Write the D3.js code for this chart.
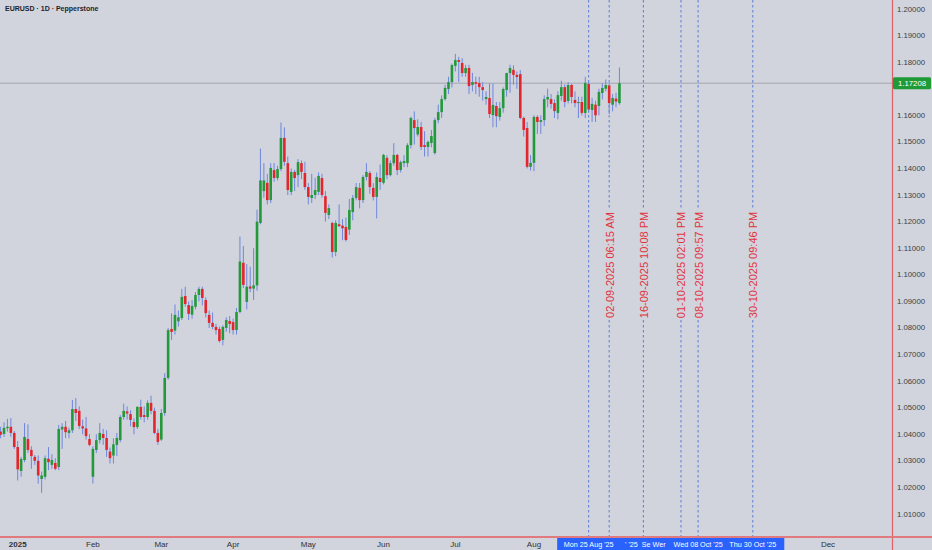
<!DOCTYPE html>
<html><head><meta charset="utf-8">
<script src="https://cdn.jsdelivr.net/npm/d3@7"></script>
<style>
html,body{margin:0;padding:0;background:#d1d4dc;}
svg{display:block;font-family:"Liberation Sans",Arial,sans-serif;}
</style>
</head><body>
<svg id="chart" width="932" height="550"></svg>
<script>
// ---------------- DATA (EURUSD daily, Dec 24 2024 -> Sep 5 2025) ----------------
const firstDay = "2024-12-24";
const holidays = ["2024-12-25", "2025-01-01"];
const openP = [
1.0410,1.0401,1.0423,1.0428,1.0405,
1.0352,1.0262,1.0303,1.0382,1.0341,1.0315,1.0300,1.0232,1.0240,1.0308,1.0285,1.0292,1.0277,1.0418,1.0428,1.0405,1.0415,1.0495,1.0488,1.0430,1.0422,1.0382,
1.0240,1.0341,1.0378,1.0401,1.0386,1.0335,1.0320,1.0360,1.0378,1.0465,1.0486,1.0476,1.0446,1.0427,1.0503,1.0472,1.0465,1.0518,1.0488,1.0405,
1.0380,1.0480,1.0612,1.0796,1.0790,1.0825,1.0837,1.0920,1.0886,1.0850,1.0880,1.0924,1.0947,1.0905,1.0849,1.0819,1.0804,1.0796,1.0755,1.0800,1.0826,
1.0822,1.0792,1.0860,1.1045,1.0898,1.0956,1.0948,1.0960,1.1195,1.1315,1.1346,1.1281,1.1394,1.1364,1.1398,1.1515,1.1420,1.1312,1.1387,1.1375,1.1420,1.1383,
1.1330,1.1289,1.1300,1.1312,1.1364,1.1296,1.1225,1.1195,1.1086,1.1190,1.1185,1.1180,1.1170,1.1236,1.1289,1.1327,1.1281,1.1368,1.1383,1.1327,1.1293,1.1364,
1.1346,1.1440,1.1375,1.1420,1.1451,1.1394,1.1420,1.1420,1.1488,1.1582,1.1528,1.1556,1.1488,1.1481,1.1496,1.1458,1.1582,1.1612,1.1661,1.1699,1.1725,
1.1786,1.1808,1.1797,1.1759,1.1778,1.1714,1.1725,1.1721,1.1706,1.1661,1.1665,1.1601,1.1635,1.1594,1.1627,1.1695,1.1759,1.1771,1.1752,1.1755,1.1590,1.1552,1.1406,
1.1421,1.1594,1.1575,1.1582,1.1660,1.1661,1.1646,1.1609,1.1673,1.1706,1.1654,1.1714,1.1658,1.1646,1.1650,1.1609,1.1718,1.1620,1.1640,1.1635,1.1684,
1.1700,1.1712,1.1640,1.1663,1.1646];
const highP = [
1.0428,1.0445,1.0458,1.0461,1.0412,
1.0375,1.0315,1.0442,1.0437,1.0355,1.0322,1.0320,1.0260,1.0320,1.0352,1.0325,1.0310,1.0435,1.0442,1.0450,1.0425,1.0529,1.0536,1.0505,1.0455,1.0465,1.0400,
1.0355,1.0400,1.0442,1.0420,1.0415,1.0350,1.0385,1.0405,1.0472,1.0515,1.0505,1.0490,1.0460,1.0505,1.0530,1.0505,1.0528,1.0545,1.0500,1.0420,
1.0495,1.0630,1.0800,1.0855,1.0888,1.0865,1.0947,1.0955,1.0900,1.0905,1.0935,1.0955,1.0955,1.0915,1.0865,1.0858,1.0815,1.0805,1.0810,1.0840,1.0845,
1.0835,1.0875,1.1144,1.1108,1.1040,1.1030,1.1100,1.1245,1.1475,1.1420,1.1380,1.1420,1.1420,1.1410,1.1573,1.1555,1.1445,1.1400,1.1395,1.1435,1.1430,1.1425,
1.1345,1.1380,1.1365,1.1385,1.1380,1.1315,1.1265,1.1200,1.1205,1.1265,1.1210,1.1215,1.1285,1.1300,1.1345,1.1345,1.1375,1.1420,1.1390,1.1345,1.1385,1.1415,
1.1455,1.1450,1.1430,1.1495,1.1455,1.1430,1.1450,1.1495,1.1595,1.1615,1.1585,1.1575,1.1540,1.1505,1.1545,1.1590,1.1640,1.1675,1.1715,1.1745,1.1795,
1.1831,1.1820,1.1815,1.1790,1.1790,1.1760,1.1745,1.1745,1.1725,1.1690,1.1720,1.1720,1.1650,1.1650,1.1705,1.1760,1.1790,1.1788,1.1765,1.1770,1.1595,1.1575,1.1450,
1.1600,1.1600,1.1600,1.1675,1.1700,1.1680,1.1660,1.1690,1.1730,1.1716,1.1725,1.1718,1.1690,1.1670,1.1670,1.1745,1.1725,1.1665,1.1655,1.1700,1.1720,
1.1735,1.1720,1.1680,1.1685,1.1780];
const lowP = [
1.0385,1.0390,1.0410,1.0390,1.0345,
1.0226,1.0240,1.0295,1.0330,1.0270,1.0285,1.0214,1.0180,1.0230,1.0265,1.0270,1.0265,1.0265,1.0345,1.0385,1.0385,1.0405,1.0450,1.0420,1.0400,1.0380,1.0355,
1.0215,1.0330,1.0365,1.0360,1.0315,1.0290,1.0290,1.0318,1.0370,1.0455,1.0455,1.0430,1.0400,1.0420,1.0455,1.0445,1.0455,1.0475,1.0400,1.0360,
1.0375,1.0470,1.0605,1.0755,1.0775,1.0805,1.0830,1.0880,1.0830,1.0835,1.0870,1.0900,1.0885,1.0840,1.0800,1.0795,1.0775,1.0745,1.0735,1.0785,1.0780,
1.0775,1.0775,1.0855,1.0950,1.0870,1.0935,1.0905,1.0940,1.1190,1.1290,1.1265,1.1270,1.1350,1.1355,1.1390,1.1410,1.1300,1.1300,1.1315,1.1330,1.1360,1.1320,
1.1265,1.1270,1.1285,1.1300,1.1290,1.1200,1.1210,1.1065,1.1070,1.1180,1.1130,1.1125,1.1150,1.1205,1.1280,1.1250,1.1270,1.1355,1.1305,1.1280,1.1212,1.1320,
1.1340,1.1360,1.1370,1.1410,1.1375,1.1385,1.1405,1.1405,1.1475,1.1490,1.1520,1.1470,1.1445,1.1445,1.1480,1.1452,1.1570,1.1590,1.1655,1.1680,1.1705,
1.1765,1.1725,1.1745,1.1745,1.1680,1.1690,1.1680,1.1670,1.1655,1.1640,1.1590,1.1555,1.1555,1.1580,1.1610,1.1670,1.1685,1.1715,1.1700,1.1585,1.1520,1.1400,1.1392,
1.1390,1.1530,1.1530,1.1560,1.1630,1.1625,1.1590,1.1585,1.1655,1.1630,1.1645,1.1645,1.1630,1.1590,1.1600,1.1590,1.1610,1.1575,1.1575,1.1600,1.1660,
1.1690,1.1605,1.1615,1.1630,1.1640];
const closeP = [
1.0398,1.0424,1.0428,1.0405,1.0352,
1.0268,1.0307,1.0390,1.0341,1.0318,1.0300,1.0245,1.0245,1.0310,1.0295,1.0303,1.0270,1.0420,1.0428,1.0408,1.0415,1.0495,1.0480,1.0431,1.0422,1.0393,1.0360,
1.0345,1.0378,1.0405,1.0386,1.0341,1.0310,1.0362,1.0386,1.0465,1.0488,1.0478,1.0454,1.0427,1.0503,1.0465,1.0465,1.0518,1.0488,1.0405,1.0371,
1.0480,1.0612,1.0792,1.0785,1.0849,1.0840,1.0917,1.0890,1.0853,1.0883,1.0924,1.0947,1.0913,1.0856,1.0819,1.0804,1.0792,1.0751,1.0804,1.0830,1.0815,
1.0792,1.0860,1.1050,1.0962,1.0955,1.0948,1.0960,1.1200,1.1355,1.1355,1.1281,1.1402,1.1364,1.1398,1.1515,1.1425,1.1319,1.1387,1.1364,1.1424,1.1387,1.1330,
1.1293,1.1300,1.1319,1.1372,1.1300,1.1233,1.1251,1.1086,1.1195,1.1183,1.1175,1.1131,1.1244,1.1289,1.1330,1.1281,1.1368,1.1387,1.1330,1.1293,1.1368,1.1349,
1.1451,1.1375,1.1420,1.1451,1.1394,1.1424,1.1428,1.1488,1.1590,1.1552,1.1556,1.1481,1.1481,1.1500,1.1522,1.1582,1.1612,1.1661,1.1703,1.1725,1.1789,
1.1808,1.1801,1.1759,1.1778,1.1710,1.1725,1.1719,1.1706,1.1695,1.1669,1.1605,1.1639,1.1597,1.1627,1.1699,1.1759,1.1778,1.1752,1.1744,1.1590,1.1545,1.1406,1.1421,
1.1594,1.1575,1.1582,1.1661,1.1669,1.1643,1.1616,1.1676,1.1706,1.1650,1.1714,1.1669,1.1646,1.1650,1.1609,1.1722,1.1622,1.1643,1.1600,1.1688,1.1703,
1.1714,1.1646,1.1665,1.1652,1.17208];

const priceTicks = [1.01,1.02,1.03,1.04,1.05,1.06,1.07,1.08,1.09,1.10,1.11,1.12,1.13,1.14,1.15,1.16,1.17,1.18,1.19,1.20];
const monthTickLabels = ["2025","Feb","Mar","Apr","May","Jun","Jul","Aug","Sep","Oct","Nov","Dec"];
const markerDates = ["2025-08-25 00:00","2025-09-02 06:15","2025-09-16 22:08","2025-10-01 14:01","2025-10-08 21:57","2025-10-30 21:46"];
const markerTexts = ["", "02-09-2025 06:15 AM", "16-09-2025 10:08 PM", "01-10-2025 02:01 PM", "08-10-2025 09:57 PM", "30-10-2025 09:46 PM"];
// visible parts of the overlapping time-axis date labels, as shown
const axisDateTexts = ["Mon 25 Aug '25", "' '25", "Se", "Wer", "Wed 08 Oct '25", "Thu 30 Oct '25"];
const title = "EURUSD · 1D · Pepperstone";

// ---------------- CALENDAR (trading days) ----------------
const parseDay = d3.utcParse("%Y-%m-%d");
const parseDT = d3.utcParse("%Y-%m-%d %H:%M");
const fmtDay = d3.utcFormat("%Y-%m-%d");
const calendar = d3.utcDays(parseDay(firstDay), parseDay("2026-01-01"))
  .filter(d => d.getUTCDay() !== 0 && d.getUTCDay() !== 6 && !holidays.includes(fmtDay(d)));
const dayIndex = new Map(calendar.map((d, i) => [fmtDay(d), i]));
const bars = openP.map((o, i) => ({i, date: calendar[i], o, h: highP[i], l: lowP[i], c: closeP[i]}));

// ---------------- LAYOUT ----------------
const W = 932, H = 550, plotR = 892, plotB = 537;
const BG = "#d1d4dc", UP = "#22993a", DOWN = "#e3262e", WICK = "#6f86dc";
const svg = d3.select("#chart");
svg.append("rect").attr("width", W).attr("height", H).attr("fill", BG);

const y = d3.scaleLinear().domain([1.01, 1.20]).range([514, 9]);
const jan2 = dayIndex.get("2025-01-02"), dec1 = dayIndex.get("2025-12-01");
const x = d3.scaleLinear().domain([jan2, dec1]).range([17.7, 828]);

const plot = svg.append("g");
plot.append("clipPath").attr("id", "clip").append("rect").attr("width", plotR).attr("height", plotB);
const pg = plot.append("g").attr("clip-path", "url(#clip)");

// current price line
const last = bars[bars.length - 1];
pg.append("line").attr("x1", 0).attr("x2", plotR).attr("y1", y(last.c)).attr("y2", y(last.c))
  .attr("stroke", "#a3a7b1").attr("stroke-width", 1);

// vertical marker lines + labels
const markerX = markerDates.map(md => x(dayIndex.get(fmtDay(parseDT(md)))));
markerDates.forEach((md, k) => {
  const xi = markerX[k];
  pg.append("line").attr("x1", xi).attr("x2", xi).attr("y1", 0).attr("y2", plotB)
    .attr("stroke", "#5a7ddb").attr("stroke-width", 1).attr("stroke-dasharray", "2.5,2.5");
  if (markerTexts[k]) {
    const cy = 265;
    pg.append("rect").attr("x", xi - 6).attr("y", cy - 55).attr("width", 12).attr("height", 110).attr("fill", BG);
    pg.append("text").attr("transform", `translate(${xi + 0.5},${cy}) rotate(-90)`)
      .attr("text-anchor", "middle").attr("dominant-baseline", "central")
      .attr("font-size", 11).attr("fill", "#e1333f").text(markerTexts[k]);
  }
});

// candles
const cg = pg.append("g");
cg.selectAll("line.wick").data(bars).join("line").attr("class", "wick")
  .attr("x1", d => x(d.i)).attr("x2", d => x(d.i))
  .attr("y1", d => y(d.h)).attr("y2", d => y(d.l))
  .attr("stroke", WICK).attr("stroke-width", 1);
cg.selectAll("rect.body").data(bars).join("rect").attr("class", "body")
  .attr("x", d => x(d.i) - 1.3).attr("width", 2.6)
  .attr("y", d => y(Math.max(d.o, d.c)))
  .attr("height", d => Math.max(1, Math.abs(y(d.o) - y(d.c))))
  .attr("fill", d => d.c >= d.o ? UP : DOWN);

// frame lines
svg.append("line").attr("x1", plotR + 0.5).attr("x2", plotR + 0.5).attr("y1", 0).attr("y2", H)
  .attr("stroke", "#e06068").attr("stroke-width", 1.2);
svg.append("line").attr("x1", 0).attr("x2", W).attr("y1", plotB).attr("y2", plotB)
  .attr("stroke", "#e07a7e").attr("stroke-width", 2);

// right price axis
const axR = svg.append("g").attr("transform", `translate(${plotR},0)`);
axR.selectAll("text").data(priceTicks.filter(d => Math.abs(y(d) - y(last.c)) > 7)).join("text")
  .attr("x", 19).attr("y", d => y(d)).attr("text-anchor", "middle").attr("dominant-baseline", "central")
  .attr("font-size", 7.8).attr("fill", "#3d3f45").text(d => d3.format(".5f")(d));
axR.append("rect").attr("x", 1).attr("y", y(last.c) - 6).attr("width", 38).attr("height", 12)
  .attr("rx", 1.5).attr("fill", "#1f9a36");
axR.append("text").attr("x", 20).attr("y", y(last.c)).attr("text-anchor", "middle")
  .attr("dominant-baseline", "central").attr("font-size", 7.8).attr("fill", "#ffffff")
  .text(d3.format(".5f")(last.c));

// crosshair-style date label boxes on the time axis
const halfBox = 31.5;
const drawOrder = [2, 3, 5, 4, 1, 0];
const boxL = markerX[0] - halfBox, boxR = d3.max(markerX) + halfBox;

// bottom time axis (first trading day of each month), skipping those hidden by the label boxes
const monthStarts = d3.utcMonths(parseDay("2025-01-01"), parseDay("2025-12-02")).map(m => {
  const d = calendar.find(c => c >= m);
  return dayIndex.get(fmtDay(d));
});
const monthData = monthStarts.map((d, i) => ({xv: x(d), label: monthTickLabels[i], bold: i === 0}))
  .filter(m => m.xv < boxL - 8 || m.xv > boxR + 8);
svg.append("g").selectAll("text").data(monthData).join("text")
  .attr("x", d => d.xv).attr("y", 544).attr("text-anchor", "middle").attr("dominant-baseline", "central")
  .attr("font-size", 8).attr("font-weight", d => d.bold ? "bold" : "normal")
  .attr("fill", "#2f3136").text(d => d.label);

const lg = svg.append("g");
drawOrder.forEach(k => {
  lg.append("rect").attr("x", markerX[k] - halfBox).attr("y", plotB + 1).attr("width", halfBox * 2)
    .attr("height", H - plotB - 1).attr("fill", "#2962ff");
});
// visible span of each label = its box minus the boxes drawn after it
drawOrder.forEach((k, pos) => {
  let a = markerX[k] - halfBox, b = markerX[k] + halfBox;
  drawOrder.slice(pos + 1).forEach(j => {
    const ja = markerX[j] - halfBox, jb = markerX[j] + halfBox;
    if (ja <= a && jb > a) a = Math.max(a, jb);
    if (jb >= b && ja < b) b = Math.min(b, ja);
  });
  const full = (b - a) > 50;
  lg.append("text").attr("x", full ? markerX[k] : (a + b) / 2 + 1).attr("y", 544)
    .attr("text-anchor", "middle").attr("dominant-baseline", "central")
    .attr("font-size", 7.2).attr("fill", "#ffffff").text(axisDateTexts[k]);
});

// title
svg.append("text").attr("x", 5).attr("y", 8).attr("dominant-baseline", "central")
  .attr("font-size", 7).attr("font-weight", "bold").attr("fill", "#1e222d").text(title);
</script>
</body></html>
